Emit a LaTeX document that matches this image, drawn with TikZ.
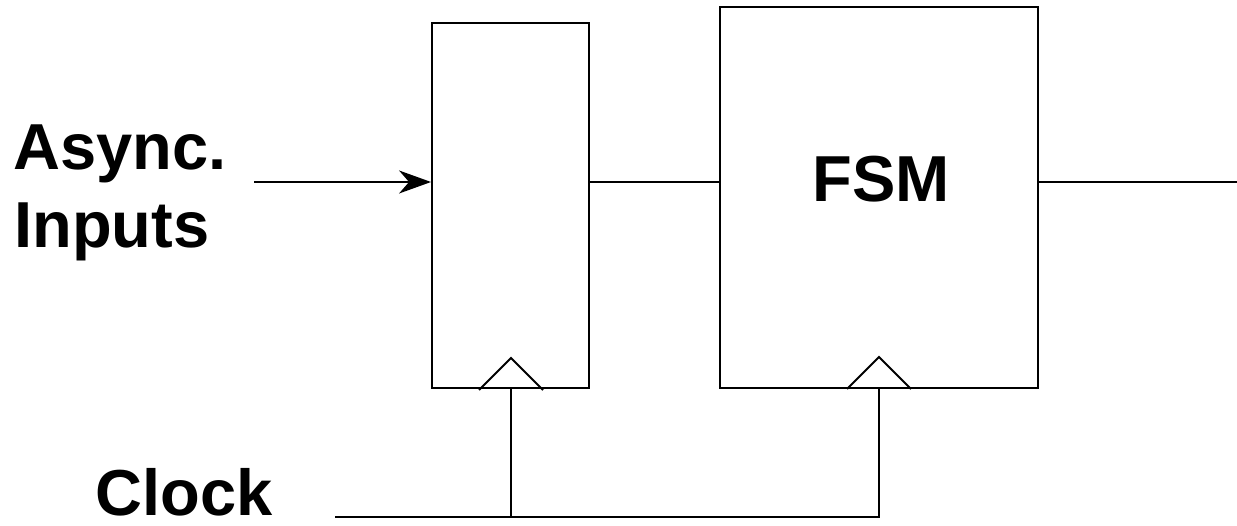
\documentclass[tikz,border=0pt]{standalone}
\usepackage{fontspec}
\setmainfont{Liberation Sans}
\usetikzlibrary{arrows.meta}
\begin{document}
\begin{tikzpicture}[x=0.02cm,y=-0.02cm,
  wire/.style={line width=1.1pt},
  blk/.style={draw,line width=1.1pt,inner sep=0pt},
  lbl/.style={font=\fontsize{37}{40}\selectfont\bfseries,inner sep=0pt,anchor=base west},
  clktri/.style={line width=1.1pt}]
\useasboundingbox (0,0) rectangle (1237,526);
% blocks
\node[blk,minimum width=3.14cm,minimum height=7.3cm] (reg) at (510.5,205.5) {};
\node[blk,minimum width=6.36cm,minimum height=7.62cm] (fsm) at (879,197.5) {};
\node[font=\fontsize{37}{40}\selectfont\bfseries,inner sep=0pt,anchor=base] (fsmtxt) at (881,202) {FSM};
% labels
\node[lbl] (async) at (13,170) {Async.};
\node[lbl] (inputs) at (14,248) {Inputs};
\node[lbl] (clock) at (95,516) {Clock};
% coordinates
\coordinate (inS) at (254,182);
\coordinate (outE) at (1237,182);
\coordinate (clkS) at (335,517);
\coordinate (j1) at (511,517);
\coordinate (j2) at (879,517);
% wires
\draw[wire,-{Stealth[length=0.64cm,width=0.46cm,inset=0.2cm]}] (inS) -- (inS -| reg.west);
\draw[wire] (reg.east |- inS) -- (fsm.west |- inS);
\draw[wire] (fsm.east |- inS) -- (outE);
\draw[wire] (clkS) -- (j2) -- (j2 |- fsm.south);
\draw[wire] (j1) -- (j1 |- reg.south);
% clock triangles
\draw[clktri] (479,390) -- (511,358) -- (543,390);
\draw[clktri] (847,389) -- (879,357) -- (911,389);
\end{tikzpicture}
\end{document}
